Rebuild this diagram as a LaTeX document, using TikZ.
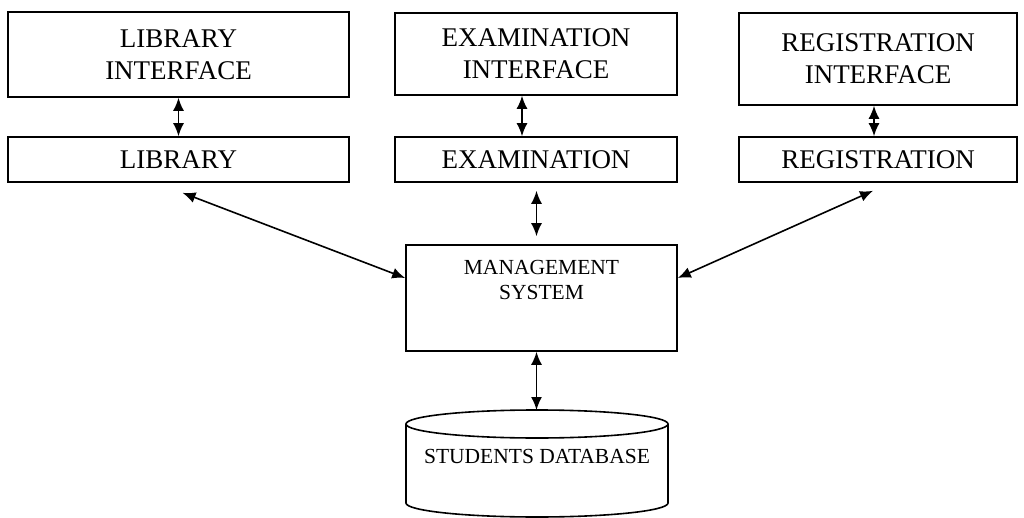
\documentclass[tikz,border=0pt]{standalone}
\usepackage{fontspec}
\setmainfont{Liberation Serif}
\usetikzlibrary{shapes,arrows,arrows.meta}

\begin{document}
\begin{tikzpicture}[x=1pt, y=-1pt]
        \tikzstyle{block} = [rectangle, draw, line width=1.6pt, align=center, inner sep=0pt, font=\fontsize{27}{32}\selectfont]
        \tikzstyle{small} = [align=center, inner sep=0pt, font=\fontsize{21.5}{25}\selectfont]
        \tikzstyle{line} = [draw, line width=1.6pt, {Latex[length=13pt,width=11pt]}-{Latex[length=13pt,width=11pt]}]

    \useasboundingbox (0,0) rectangle (1024,518);

    \node [block, minimum width=341pt, minimum height=85pt] (library_interface) at (178.5,54.5) {LIBRARY\\INTERFACE};
    \node [block, minimum width=341pt, minimum height=45pt] (library) at (178.5,159.5) {LIBRARY};
    \node [block, minimum width=282pt, minimum height=82pt] (exam_interface) at (536,54) {EXAMINATION\\INTERFACE};
    \node [block, minimum width=282pt, minimum height=45pt] (examination) at (536,159.5) {EXAMINATION};
    \node [block, minimum width=278pt, minimum height=92pt] (reg_interface) at (878,59) {REGISTRATION\\INTERFACE};
    \node [block, minimum width=278pt, minimum height=45pt] (registration) at (878,159.5) {REGISTRATION};

    \node [block, minimum width=271pt, minimum height=106pt] (management) at (541.5,298) {};
    \node [small] (management_text) at (541.5,280) {MANAGEMENT\\SYSTEM};

    % students database cylinder
    \coordinate (db_top) at (536.5,410);
    \draw [line width=1.6pt] (537,424) ellipse [x radius=131, y radius=14];
    \draw [line width=1.6pt] (406,424) -- (406,503) arc [start angle=180, end angle=0, x radius=131, y radius=14] -- (668,424);
    \node [small] (database) at (537,456) {STUDENTS DATABASE};

    \path [line] (library_interface.south) -- (library.north);
    \path [line] ([xshift=-14pt]exam_interface.south) -- ([xshift=-14pt]examination.north);
    \path [line] ([xshift=-4pt]reg_interface.south) -- ([xshift=-4pt]registration.north);

    \path [line, shorten <=8pt, shorten >=8pt] (examination.south -| db_top) -- (management.north -| db_top);
    \path [line] (management.south -| db_top) -- (db_top);
    \path [line] ([xshift=4pt, yshift=-10pt]library.south) -- ([yshift=20pt]management.west);
    \path [line] ([xshift=-5pt, yshift=-8pt]registration.south) -- ([yshift=20pt]management.east);

\end{tikzpicture}
\end{document}
